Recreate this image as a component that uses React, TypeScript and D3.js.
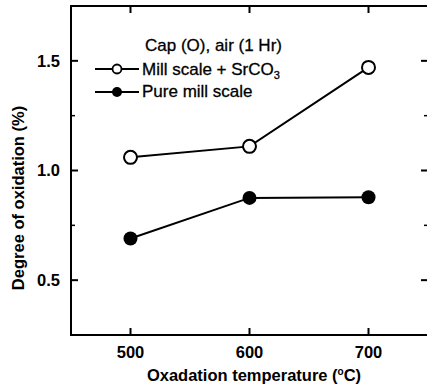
import React from 'react';
import * as d3 from 'd3';

const temps = [500, 600, 700];
const millScaleSr = [1.06, 1.11, 1.47];
const pureMill = [0.69, 0.875, 0.878];
const xTicks = [500, 600, 700];
const yTicks = [0.5, 1.0, 1.5];
const yMinor = [0.75, 1.25];

const W = 427;
const H = 389;
const m = { left: 71, right: 428, top: 6, bottom: 335 };
const FONT = 'Liberation Sans, Arial, Helvetica, sans-serif';

export default function App() {
  const x = d3.scaleLinear().domain([450, 750]).range([m.left, m.right]);
  const y = d3.scaleLinear().domain([0.25, 1.75]).range([m.bottom, m.top]);
  const line = d3.line<[number, number]>().x(d => x(d[0])).y(d => y(d[1]));

  const openPts = temps.map((t, i) => [t, millScaleSr[i]] as [number, number]);
  const fillPts = temps.map((t, i) => [t, pureMill[i]] as [number, number]);

  return (
    <svg width={W} height={H} style={{ position: 'absolute', left: 0, top: 0, background: '#fff' }}
      fontFamily={FONT}>
      {/* frame */}
      <rect x={m.left} y={m.top} width={m.right - m.left} height={m.bottom - m.top}
        fill="none" stroke="#000" strokeWidth={2} />

      {/* y ticks, both sides, inward */}
      {yTicks.map(v => (
        <g key={'y' + v}>
          <line x1={m.left} x2={m.left + 7} y1={y(v)} y2={y(v)} stroke="#000" strokeWidth={2} />
          <line x1={m.right - 7} x2={m.right} y1={y(v)} y2={y(v)} stroke="#000" strokeWidth={2} />
          <text x={60} y={y(v)} dy="0.36em" textAnchor="end" fontSize={16.5} fontWeight="bold">
            {d3.format('.1f')(v)}
          </text>
        </g>
      ))}
      {yMinor.map(v => (
        <g key={'ym' + v}>
          <line x1={m.left} x2={m.left + 4} y1={y(v)} y2={y(v)} stroke="#000" strokeWidth={1.5} />
          <line x1={m.right - 4} x2={m.right} y1={y(v)} y2={y(v)} stroke="#000" strokeWidth={1.5} />
        </g>
      ))}

      {/* x ticks, top and bottom, inward */}
      {xTicks.map(v => (
        <g key={'x' + v}>
          <line x1={x(v)} x2={x(v)} y1={m.bottom} y2={m.bottom - 7} stroke="#000" strokeWidth={2} />
          <line x1={x(v)} x2={x(v)} y1={m.top} y2={m.top + 7} stroke="#000" strokeWidth={2} />
          <text x={x(v)} y={358} textAnchor="middle" fontSize={16.5} fontWeight="bold">{v}</text>
        </g>
      ))}

      {/* axis titles */}
      <text x={254} y={381} textAnchor="middle" fontSize={16.5} fontWeight="bold">
        Oxadation temperature (<tspan dy={-6} fontSize={10}>o</tspan><tspan dy={6}>C)</tspan>
      </text>
      <text transform="translate(24,198) rotate(-90)" textAnchor="middle" fontSize={16.5} fontWeight="bold">
        Degree of oxidation (%)
      </text>

      {/* series */}
      <path d={line(openPts) ?? ''} fill="none" stroke="#000" strokeWidth={2} />
      <path d={line(fillPts) ?? ''} fill="none" stroke="#000" strokeWidth={2} />
      {openPts.map(p => (
        <circle key={'o' + p[0]} cx={x(p[0])} cy={y(p[1])} r={6.5} fill="#fff" stroke="#000" strokeWidth={2} />
      ))}
      {fillPts.map(p => (
        <circle key={'f' + p[0]} cx={x(p[0])} cy={y(p[1])} r={7} fill="#000" />
      ))}

      {/* legend */}
      <g fontSize={17} stroke="#000" strokeWidth={0.3}>
        <text x={145} y={51}>Cap (O), air (1 Hr)</text>
        <text x={142} y={75}>
          Mill scale + SrCO<tspan dy={4} fontSize={11}>3</tspan>
        </text>
        <text x={142} y={97}>Pure mill scale</text>
      </g>
      <line x1={95} x2={139} y1={69} y2={69} stroke="#000" strokeWidth={2} />
      <circle cx={117} cy={69} r={4.5} fill="#fff" stroke="#000" strokeWidth={1.8} />
      <line x1={95} x2={139} y1={92} y2={92} stroke="#000" strokeWidth={2} />
      <circle cx={117} cy={92} r={5} fill="#000" />
    </svg>
  );
}
